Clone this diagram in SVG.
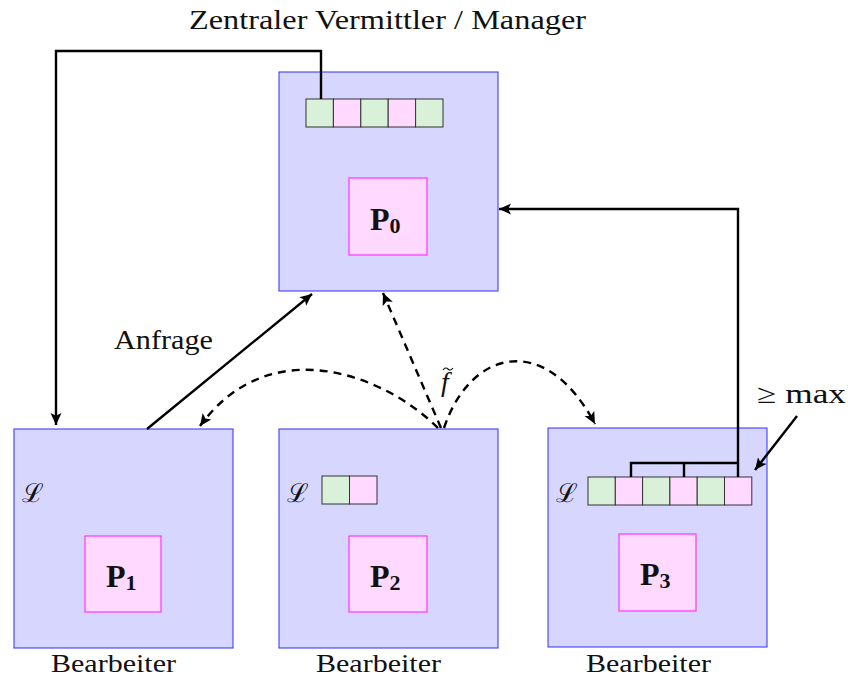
<svg xmlns="http://www.w3.org/2000/svg" width="848" height="679" viewBox="0 0 848 679">
  <style>
    .node { fill: #d6d6ff; stroke: #2e2eff; stroke-width: 1; }
    .proc { fill: #ffd9ff; stroke: #ff33ff; stroke-width: 1.2; }
    .cg { fill: #d9f0d9; stroke: #333; stroke-width: 1; }
    .cp { fill: #ffd9ff; stroke: #333; stroke-width: 1; }
    .lbl { font-family: "Liberation Serif", "DejaVu Serif", serif; font-size: 27px; fill: #111; }
    .foot { font-family: "Liberation Serif", "DejaVu Serif", serif; font-size: 25px; fill: #111; }
    .pl { font-family: "Liberation Serif", "DejaVu Serif", serif; font-weight: bold; font-size: 32px; fill: #111; }
    .sub { font-size: 22px; }
    .scr { font-family: "DejaVu Serif", serif; font-size: 26px; fill: #111; }
    .math { font-family: "Liberation Serif", "DejaVu Serif", serif; font-style: italic; font-size: 28px; fill: #111; }
    .wire { fill: none; stroke: #000; stroke-width: 2.4; }
    .dash { fill: none; stroke: #000; stroke-width: 2.4; stroke-dasharray: 8 6; }
  </style>
  <defs>
    <marker id="tip" markerUnits="userSpaceOnUse" markerWidth="15" markerHeight="12" refX="12" refY="5.5" orient="auto">
      <path d="M0,0 L12,5.5 L0,11 L2.8,5.5 Z" fill="#000"/>
    </marker>
  </defs>

  <text class="lbl" x="189" y="29" textLength="397" lengthAdjust="spacingAndGlyphs">Zentraler Vermittler / Manager</text>

  <!-- manager node -->
  <g id="manager">
    <rect class="node" x="279" y="72" width="219" height="219"/>
    <rect class="cg" x="306" y="99" width="27.4" height="28"/>
    <rect class="cp" x="333.4" y="99" width="27.4" height="28"/>
    <rect class="cg" x="360.8" y="99" width="27.4" height="28"/>
    <rect class="cp" x="388.2" y="99" width="27.4" height="28"/>
    <rect class="cg" x="415.6" y="99" width="27.4" height="28"/>
    <rect class="proc" x="349" y="178" width="78" height="77"/>
    <text class="pl" x="370" y="230">P<tspan class="sub" dy="3">0</tspan></text>
  </g>

  <!-- worker 1 -->
  <g id="worker1">
    <rect class="node" x="14" y="429" width="219" height="219"/>
    <text class="scr" x="22" y="502">ℒ</text>
    <rect class="proc" x="85" y="536" width="76" height="76"/>
    <text class="pl" x="106" y="587">P<tspan class="sub" dy="3">1</tspan></text>
    <text class="foot" x="51" y="672" textLength="125" lengthAdjust="spacingAndGlyphs">Bearbeiter</text>
  </g>

  <!-- worker 2 -->
  <g id="worker2">
    <rect class="node" x="279" y="429" width="219" height="219"/>
    <text class="scr" x="287" y="502">ℒ</text>
    <rect class="cg" x="322" y="476" width="27.5" height="28"/>
    <rect class="cp" x="349.5" y="476" width="27.5" height="28"/>
    <rect class="proc" x="349" y="536" width="78" height="76"/>
    <text class="pl" x="370" y="587">P<tspan class="sub" dy="3">2</tspan></text>
    <text class="foot" x="316" y="672" textLength="125" lengthAdjust="spacingAndGlyphs">Bearbeiter</text>
  </g>

  <!-- worker 3 -->
  <g id="worker3">
    <rect class="node" x="548" y="428" width="219" height="219"/>
    <text class="scr" x="556" y="502">ℒ</text>
    <rect class="cg" x="588" y="477" width="27.3" height="28"/>
    <rect class="cp" x="615.3" y="477" width="27.3" height="28"/>
    <rect class="cg" x="642.6" y="477" width="27.3" height="28"/>
    <rect class="cp" x="669.9" y="477" width="27.3" height="28"/>
    <rect class="cg" x="697.2" y="477" width="27.3" height="28"/>
    <rect class="cp" x="724.5" y="477" width="27.3" height="28"/>
    <rect class="proc" x="619" y="534" width="77" height="77"/>
    <text class="pl" x="640" y="585">P<tspan class="sub" dy="3">3</tspan></text>
    <text class="foot" x="586" y="672" textLength="125" lengthAdjust="spacingAndGlyphs">Bearbeiter</text>
  </g>

  <!-- connectors -->
  <g id="connectors">
    <path class="wire" d="M321,99 V51 H56 V425" marker-end="url(#tip)"/>
    <path class="wire" d="M738,477 V209 H499" marker-end="url(#tip)"/>
    <path class="wire" d="M631,477 V463 H738 M684,463 V477"/>
    <path class="wire" d="M147,429 L312,294" marker-end="url(#tip)"/>
    <path class="wire" d="M797,416 L755,470" marker-end="url(#tip)"/>
    <path class="dash" d="M441,428 L383,293" marker-end="url(#tip)"/>
    <path class="dash" d="M438,428 C385,375 270,330 200,426" marker-end="url(#tip)"/>
    <path class="dash" d="M444,428 C470,350 545,330 595,424" marker-end="url(#tip)"/>
    <text class="lbl" x="114" y="349" textLength="99" lengthAdjust="spacingAndGlyphs">Anfrage</text>
    <text class="lbl" x="757" y="403" textLength="89" lengthAdjust="spacingAndGlyphs">≥ max</text>
    <text class="math" x="441" y="391">f</text>
    <path d="M443,370 Q445.5,366.5 448,369 T453,368" fill="none" stroke="#111" stroke-width="1.1"/>
  </g>
</svg>
